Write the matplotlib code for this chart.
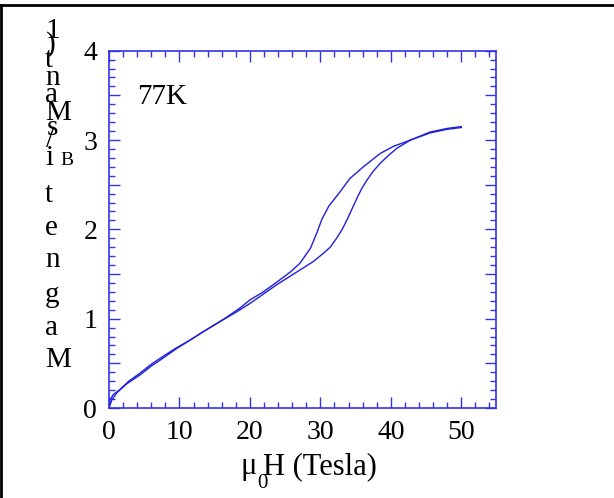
"""
M(H) hysteresis loop at 77K, pulsed field up to 50 T.
"""

import numpy as np
import matplotlib.pyplot as plt
from matplotlib.lines import Line2D
from matplotlib.ticker import MultipleLocator, FuncFormatter

plt.rcParams['font.family'] = ['Liberation Serif', 'DejaVu Serif']

# ============================================================
# DATA
# ============================================================
# field-up branch (transition at higher field)
H_up = [0.0, 0.4, 1.1, 2.5, 4.4, 6.0, 7.7, 9.5, 11.5, 13.5, 15.8, 18.0, 20.0,
        22.0, 23.8, 25.8, 27.6, 29.0, 30.4, 31.4, 32.3, 33.1, 33.8, 34.5,
        35.2, 35.9, 36.6, 37.5, 38.5, 39.7, 40.9, 42.8, 45.6, 48.0, 50.0]
M_up = [0.0, 0.09, 0.17, 0.27, 0.37, 0.47, 0.56, 0.66, 0.76, 0.86, 0.97,
        1.07, 1.17, 1.28, 1.38, 1.48, 1.57, 1.64, 1.73, 1.80, 1.90, 2.00,
        2.11, 2.23, 2.35, 2.46, 2.55, 2.65, 2.74, 2.83, 2.91, 3.00, 3.08,
        3.12, 3.14]

# field-down branch (transition at lower field)
H_dn = [50.0, 48.0, 45.6, 42.8, 40.4, 38.5, 36.1, 34.2, 32.6, 31.2, 30.2,
        29.5, 28.6, 27.1, 25.7, 24.0, 21.9, 20.0, 18.6, 16.2, 13.5, 11.5,
        9.5, 7.7, 6.0, 4.4, 2.8, 1.6, 0.6, 0.14, 0.0]
M_dn = [3.15, 3.13, 3.09, 3.00, 2.93, 2.85, 2.70, 2.57, 2.40, 2.26, 2.11,
        1.96, 1.79, 1.62, 1.52, 1.42, 1.30, 1.21, 1.12, 0.99, 0.86, 0.76,
        0.67, 0.58, 0.49, 0.39, 0.30, 0.21, 0.15, 0.09, 0.0]

TEMP_LABEL = '77K'
XLIM = (0, 55)
YLIM = (0, 4)

# garbled vertical y label as it appears in the source: (char, left px, baseline px)
YLABEL_CHARS = [('1', 45, 38), (')', 46, 52), ('t', 45, 67), ('n', 45, 85),
                ('a', 45, 102), ('M', 45, 120), ('s', 47, 135), ('/', 46, 147),
                ('i', 45, 165), ('t', 45, 202), ('e', 45, 235), ('n', 45, 267),
                ('g', 45, 302), ('a', 45, 335), ('M', 45, 367)]

# ============================================================
# FIGURE
# ============================================================
W, H = 614, 498
fig = plt.figure(figsize=(W / 100, H / 100), dpi=100)
x0, x1, y0, y1 = 109, 496.5, 50.7, 408
ax = fig.add_axes([x0 / W, 1 - y1 / H, (x1 - x0) / W, (y1 - y0) / H])

line_col = '#1f1fdc'
ax.plot(H_up, M_up, color=line_col, linewidth=1.0)
ax.plot(H_dn, M_dn, color=line_col, linewidth=1.0)

ax.set_xlim(*XLIM)
ax.set_ylim(*YLIM)

ax.xaxis.set_major_locator(MultipleLocator(10))
ax.xaxis.set_minor_locator(MultipleLocator(2))
ax.yaxis.set_major_locator(MultipleLocator(0.5))
ax.yaxis.set_minor_locator(MultipleLocator(0.1))
ax.yaxis.set_major_formatter(FuncFormatter(
    lambda v, p: f'{v:.0f}' if abs(v - round(v)) < 1e-6 else ''))

spine_col = '#3333e6'
for s in ax.spines.values():
    s.set_color(spine_col)
    s.set_linewidth(1.2)
ax.tick_params(which='both', direction='in', top=True, right=True,
               color=spine_col, labelsize=20, labelcolor='black')
ax.tick_params(which='major', length=8, width=1.0)
ax.tick_params(which='minor', length=4.5, width=1.0)
ax.tick_params(axis='x', which='major', pad=8.5)
ax.tick_params(axis='y', which='major', pad=8.5)

ax.text(4.0, 3.48, TEMP_LABEL, fontsize=21, va='center', ha='left')

# x label: mu, low subscript 0, then H (Tesla)
px = lambda x: x / W
py = lambda y: 1 - y / H
fig.text(px(257), py(474), '\u03bc', fontsize=22, ha='right', va='baseline')
fig.text(px(262.5), py(488), '0', fontsize=15, ha='center', va='baseline')
fig.text(px(263), py(474), 'H (Tesla)', fontsize=22, ha='left', va='baseline')

# stacked y label characters
for ch, lx, by in YLABEL_CHARS:
    fig.text(px(lx), py(by), ch, fontsize=21, ha='left', va='baseline')
fig.text(px(60), py(165), 'B', fontsize=14, ha='left', va='baseline')

# page frame (top and left edges)
fig.add_artist(Line2D([0, 1], [py(5), py(5)], transform=fig.transFigure,
                      color='black', linewidth=2.0))
fig.add_artist(Line2D([px(0.8), px(0.8)], [0, py(5)], transform=fig.transFigure,
                      color='black', linewidth=2.0))

fig.savefig('out.png', dpi=100)
